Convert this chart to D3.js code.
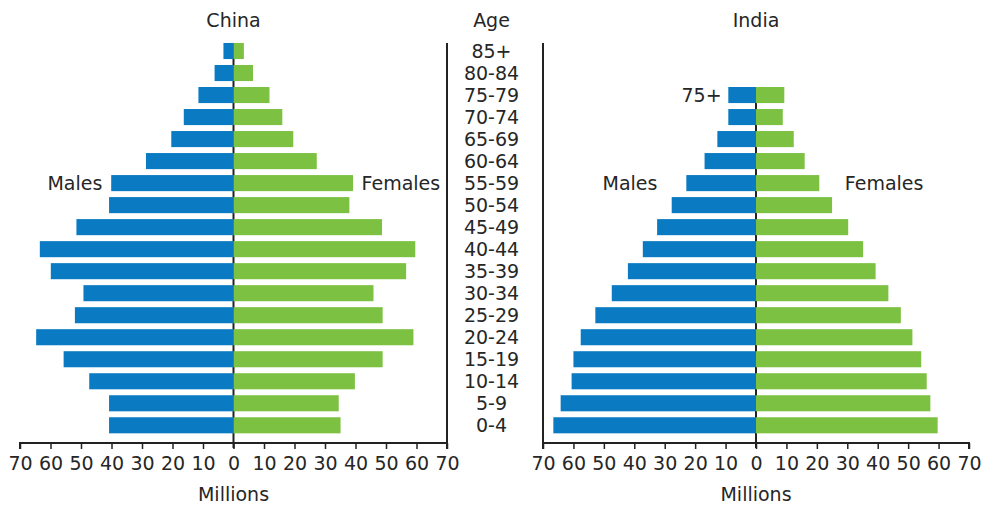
<!DOCTYPE html>
<html>
<head>
<meta charset="utf-8">
<script src="https://cdn.jsdelivr.net/npm/d3@7"></script>
<style>
  body { margin: 0; background: #fff; }
  text { font-family: 'DejaVu Sans', Verdana, sans-serif; fill: #262626; }
</style>
</head>
<body>
<div class="chart"></div>
<script>
// age groups, top to bottom
const ages = ['85+', '80-84', '75-79', '70-74', '65-69', '60-64', '55-59', '50-54', '45-49',
  '40-44', '35-39', '30-34', '25-29', '20-24', '15-19', '10-14', '5-9', '0-4']

// millions
const chinaMales = [3.3, 6.2, 11.5, 16.3, 20.4, 28.7, 40.1, 40.8, 51.5, 63.5, 59.9, 49.2, 52.0, 64.7, 55.7, 47.3, 40.8, 40.8]
const chinaFemales = [3.4, 6.4, 11.8, 16.0, 19.6, 27.3, 39.2, 38.0, 48.7, 59.6, 56.6, 45.9, 48.9, 59.0, 48.9, 39.8, 34.5, 35.1]
// India groups 75+ into one bar
const indiaMales = [null, null, 9.1, 9.1, 12.7, 16.9, 22.9, 27.7, 32.5, 37.2, 42.1, 47.4, 52.8, 57.6, 60.0, 60.6, 64.2, 66.6]
const indiaFemales = [null, null, 9.3, 8.8, 12.4, 16.0, 20.8, 25.0, 30.3, 35.2, 39.3, 43.5, 47.6, 51.4, 54.3, 56.1, 57.3, 59.7]

const xTicks = [-70, -60, -50, -40, -30, -20, -10, 0, 10, 20, 30, 40, 50, 60, 70]

const width = 989
const height = 505
const axisY = 443
const blue = '#0a7bc2'
const green = '#7cc142'
const ink = '#222'
const fontSize = '19px'

const svg = d3.select('.chart')
  .append('svg')
  .attr('width', width)
  .attr('height', height)

const y = d3.scaleBand()
  .domain(ages)
  .range([40, 436.3])
  .paddingInner(0.27)
  .paddingOuter(0.135)

const drawPyramid = opts => {
  const x = d3.scaleLinear().domain([-70, 70]).range(opts.range)
  const g = svg.append('g')
  const rows = ages.map((age, i) => ({age: age, m: opts.males[i], f: opts.females[i]}))
    .filter(d => d.m != null)

  // centre line, behind bars
  g.append('line')
    .attr('x1', x(0)).attr('x2', x(0))
    .attr('y1', y(rows[0].age)).attr('y2', axisY + 5)
    .style('stroke', ink)
    .style('stroke-width', 2)

  g.selectAll('.male')
    .data(rows)
    .enter()
    .append('rect')
    .attr('x', d => x(-d.m))
    .attr('y', d => y(d.age))
    .attr('width', d => x(0) - x(-d.m))
    .attr('height', y.bandwidth())
    .style('fill', blue)

  g.selectAll('.female')
    .data(rows)
    .enter()
    .append('rect')
    .attr('x', x(0))
    .attr('y', d => y(d.age))
    .attr('width', d => x(d.f) - x(0))
    .attr('height', y.bandwidth())
    .style('fill', green)

  // x axis
  const axis = g.append('g')
    .attr('transform', 'translate(0,' + axisY + ')')
    .call(d3.axisBottom(x).tickValues(xTicks).tickSize(6).tickPadding(8)
      .tickFormat(d => Math.abs(d)))
  axis.select('.domain').style('stroke', ink).style('stroke-width', 2)
    .attr('d', 'M' + x(-70) + ',6V0H' + x(70) + 'V6')
  axis.selectAll('.tick line').style('stroke', ink).style('stroke-width', 1.5)
  axis.selectAll('text')
    .style('font-family', "'DejaVu Sans', Verdana, sans-serif")
    .style('font-size', fontSize)
    .style('fill', '#262626')

  // vertical frame line next to the age column
  g.append('line')
    .attr('x1', x(opts.frame)).attr('x2', x(opts.frame))
    .attr('y1', 43).attr('y2', axisY)
    .style('stroke', ink)
    .style('stroke-width', 2)

  g.append('text')
    .attr('x', x(0)).attr('y', 27)
    .attr('text-anchor', 'middle')
    .style('font-size', fontSize)
    .text(opts.title)

  g.append('text')
    .attr('x', x(0)).attr('y', 501)
    .attr('text-anchor', 'middle')
    .style('font-size', fontSize)
    .text('Millions')

  opts.labels.forEach(l => {
    g.append('text')
      .attr('x', x(l.at))
      .attr('y', y(l.row) + y.bandwidth() / 2)
      .attr('dy', '0.36em')
      .attr('text-anchor', l.anchor)
      .style('font-size', fontSize)
      .text(l.text)
  })
}

drawPyramid({
  title: 'China',
  range: [20, 447],
  frame: 70,
  males: chinaMales,
  females: chinaFemales,
  labels: [
    {text: 'Males', row: '55-59', at: -43, anchor: 'end'},
    {text: 'Females', row: '55-59', at: 42, anchor: 'start'}
  ]
})

drawPyramid({
  title: 'India',
  range: [543, 969],
  frame: -70,
  males: indiaMales,
  females: indiaFemales,
  labels: [
    {text: 'Males', row: '55-59', at: -32.4, anchor: 'end'},
    {text: 'Females', row: '55-59', at: 29.2, anchor: 'start'},
    {text: '75+', row: '75-79', at: -11.3, anchor: 'end'}
  ]
})

// age column in the middle
svg.append('text')
  .attr('x', 491.5).attr('y', 27)
  .attr('text-anchor', 'middle')
  .style('font-size', fontSize)
  .text('Age')

svg.selectAll('.age')
  .data(ages)
  .enter()
  .append('text')
  .attr('x', 491.5)
  .attr('y', d => y(d) + y.bandwidth() / 2)
  .attr('dy', '0.36em')
  .attr('text-anchor', 'middle')
  .style('font-size', fontSize)
  .text(d => d)
</script>
</body>
</html>
